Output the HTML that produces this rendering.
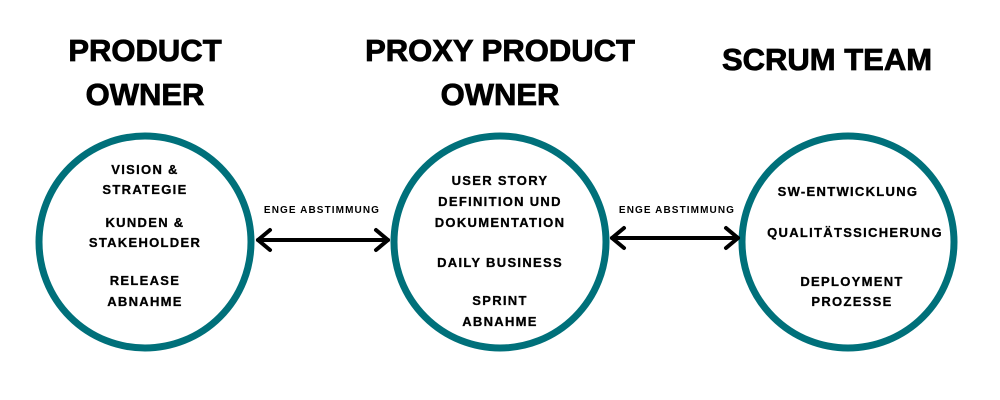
<!DOCTYPE html>
<html><head><meta charset="utf-8"><style>body{margin:0;background:#fff}svg{display:block}</style></head><body>
<svg width="1000" height="400" viewBox="0 0 1000 400" xmlns="http://www.w3.org/2000/svg" font-family="Liberation Sans, sans-serif" font-weight="bold" text-anchor="middle">
<g font-size="31" fill="#000" font-weight="900" stroke="#000" stroke-width="0.8">
<text x="145" y="61">PRODUCT</text>
<text x="145" y="105">OWNER</text>
<text x="500" y="61">PROXY PRODUCT</text>
<text x="500" y="105">OWNER</text>
<text x="827" y="70">SCRUM TEAM</text>
</g>
<g fill="none" stroke="#00707a" stroke-width="7">
<circle cx="145" cy="242" r="106"/>
<circle cx="500" cy="242" r="106"/>
<circle cx="848" cy="242" r="106"/>
</g>
<g stroke="#000" stroke-width="4" fill="none" stroke-linecap="round" stroke-linejoin="round">
<line x1="258" y1="240" x2="388" y2="240"/>
<polyline points="270,230 258,240 270,250"/>
<polyline points="376,230 388,240 376,250"/>
<line x1="612" y1="238" x2="738" y2="238"/>
<polyline points="624,228 612,238 624,248"/>
<polyline points="726,228 738,238 726,248"/>
</g>
<g font-size="10" fill="#000" letter-spacing="1.1">
<text x="322" y="213">ENGE ABSTIMMUNG</text>
<text x="677" y="213">ENGE ABSTIMMUNG</text>
</g>
<g font-size="13" fill="#000" letter-spacing="1.3" stroke="#000" stroke-width="0.3">
<text x="145" y="174">VISION &amp;</text>
<text x="145" y="194">STRATEGIE</text>
<text x="145" y="227">KUNDEN &amp;</text>
<text x="145" y="247">STAKEHOLDER</text>
<text x="145" y="285">RELEASE</text>
<text x="145" y="306">ABNAHME</text>
<text x="500" y="185">USER STORY</text>
<text x="500" y="206">DEFINITION UND</text>
<text x="500" y="227">DOKUMENTATION</text>
<text x="500" y="267">DAILY BUSINESS</text>
<text x="500" y="305">SPRINT</text>
<text x="500" y="326">ABNAHME</text>
<text x="848" y="196">SW-ENTWICKLUNG</text>
<text x="855" y="237">QUALITÄTSSICHERUNG</text>
<text x="852" y="286">DEPLOYMENT</text>
<text x="852" y="306">PROZESSE</text>
</g>
</svg>
</body></html>
